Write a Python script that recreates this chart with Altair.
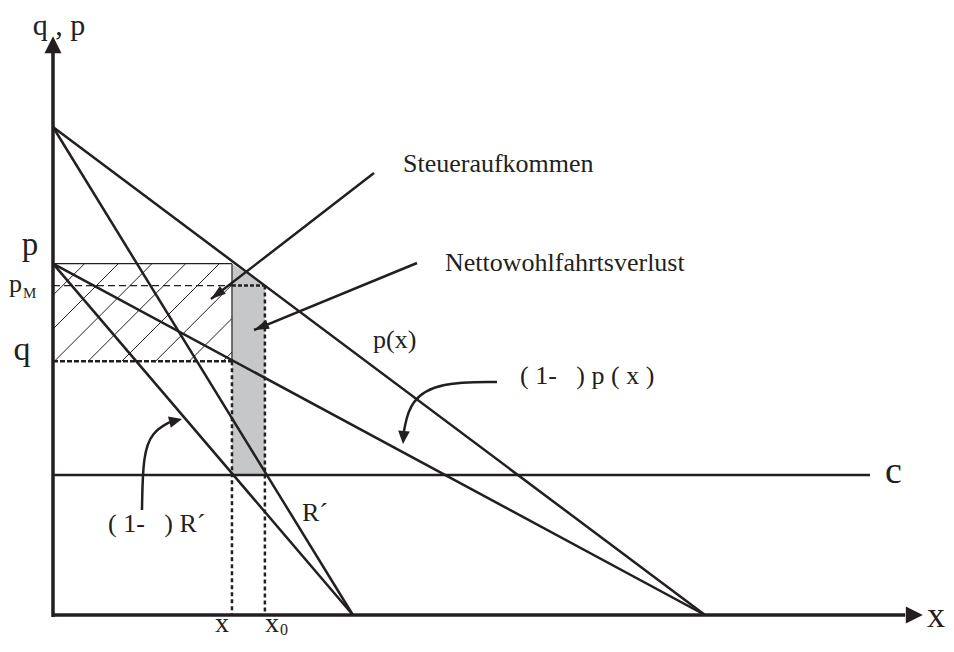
import math
import altair as alt
import pandas as pd

# ---------------- values (diagram units) ----------------
# straight lines: name, start (x, y), end (x, y)
line_names = ["p(x)", "R'", "(1-t)p(x)", "(1-t)R'", "c"]
line_x1 = [0.0, 0.0, 0.0, 0.0, 0.0]
line_y1 = [10.0, 10.0, 7.2, 7.2, 2.87]
line_x2 = [10.0, 4.6, 10.0, 4.6, 12.53]
line_y2 = [0.0, 0.0, 0.0, 0.0, 2.87]

x_m = 2.745      # quantity x
x_0 = 3.25       # quantity x0
p_level = 7.2    # p
pM_level = 6.75  # p_M
q_level = 5.2    # q
c_level = 2.87   # c

# axis extents
y_axis_top = 11.54
y_axis_tip = 11.86
x_axis_end = 13.07
x_axis_tip = 13.34

# straight annotation arrows: from (x, y) to tip (x, y)
arrow_from_x = [4.923, 5.583]
arrow_from_y = [9.057, 7.213]
arrow_tip_x = [2.423, 3.083]
arrow_tip_y = [6.475, 5.840]

# curved annotation arrows (control points) and their tips
curve1_x = [6.810, 5.936, 5.475, 5.383]
curve1_y = [4.775, 4.775, 4.406, 3.770]
curve1_tip = (5.368, 3.504)
curve2_x = [1.365, 1.380, 1.518, 1.794]
curve2_y = [2.152, 3.279, 3.750, 3.955]
curve2_tip = (1.979, 4.016)

NB = "\u00a0"
left_texts = ["p", "M", "Steueraufkommen", "Nettowohlfahrtsverlust", "p(x)",
              "(" + NB + "1-" + NB * 3 + ")" + NB + "p" + NB + "(" + NB + "x" + NB + ")",
              "(" + NB + "1-" + NB * 3 + ")" + NB + "R´", "R´", "x", "0", "x", "c"]
left_tx = [-0.675, -0.46, 5.368, 6.012, 4.908, 7.163, 0.844, 3.819, 3.252, 3.482, 13.405, 12.761]
left_ty = [6.619, 6.496, 9.078, 7.049, 5.471, 4.734, 1.701, 1.926, -0.348, -0.41, -0.246, 2.705]
left_ts = [26, 15, 26, 26, 26, 26, 26, 26, 28, 16, 36, 38]

center_texts = ["q , p", "p", "q", "x"]
center_tx = [0.092, -0.353, -0.475, 2.592]
center_ty = [11.885, 7.377, 5.225, -0.348]
center_ts = [30, 33, 34, 28]

# ---------------- chart geometry ----------------
W, H = 938, 630
umin, umax = -0.690, 13.696
vmin, vmax = -0.471, 12.439
SX = W / (umax - umin)
SY = H / (vmax - vmin)
INK = "#231f20"
FONT = "Liberation Serif"

xs = alt.Scale(domain=[umin, umax], nice=False, zero=False)
ys = alt.Scale(domain=[vmin, vmax], nice=False, zero=False)


def seg_layer(df, width, dash=None, color=INK):
    kw = dict(color=color, strokeWidth=width, strokeCap="butt")
    if dash:
        kw["strokeDash"] = dash
    return alt.Chart(df).mark_rule(**kw).encode(
        x=alt.X("x:Q", scale=xs, axis=None),
        y=alt.Y("y:Q", scale=ys, axis=None),
        x2="x2:Q", y2="y2:Q")


def angle(fx, fy, tx, ty):
    dx = (tx - fx) * SX
    dy = -(ty - fy) * SY
    return math.degrees(math.atan2(dx, -dy)) % 360


# gray net-welfare-loss area
gray = alt.Chart(pd.DataFrame({"x": [x_m, x_0], "y": [p_level, pM_level],
                               "y2": [c_level, c_level]})).mark_area(
    color="#c6c7c9", opacity=1).encode(
    x=alt.X("x:Q", scale=xs, axis=None), y=alt.Y("y:Q", scale=ys, axis=None), y2="y2:Q")

# hatch lines at 45 degrees (screen) inside [0, x_m] x [q, p]
k = SX / SY
spacing = 33.7 / SX
hatch = []
ub = -66.0 / SX
while ub < x_m:
    u1 = max(ub, 0.0)
    v1 = q_level + (u1 - ub) * k
    u2 = ub + (p_level - q_level) / k
    v2 = p_level
    if u2 > x_m:
        u2 = x_m
        v2 = q_level + (x_m - ub) * k
    if v1 < p_level and u1 < x_m:
        hatch.append({"x": u1, "y": v1, "x2": u2, "y2": v2})
    ub += spacing
hatch_df = pd.DataFrame(hatch)

thin_df = pd.DataFrame({"x": [0.0, x_m], "y": [p_level, q_level],
                        "x2": [x_m, x_m], "y2": [p_level, p_level]})

pm_thin = pd.DataFrame({"x": [0.0], "y": [pM_level], "x2": [x_m], "y2": [pM_level]})
pm_thick = pd.DataFrame({"x": [x_m], "y": [pM_level], "x2": [x_0], "y2": [pM_level]})
q_dash = pd.DataFrame({"x": [0.0], "y": [q_level], "x2": [x_m], "y2": [q_level]})
vert_dash = pd.DataFrame({"x": [x_m, x_0], "y": [q_level, pM_level],
                          "x2": [x_m, x_0], "y2": [0.0, 0.0]})

lines_df = pd.DataFrame({"x": line_x1, "y": line_y1, "x2": line_x2, "y2": line_y2})
axes_df = pd.DataFrame({"x": [0.0, 0.0], "y": [-0.04, 0.0],
                        "x2": [0.0, x_axis_end], "y2": [y_axis_top, 0.0]})
arrows_df = pd.DataFrame({"x": arrow_from_x, "y": arrow_from_y,
                          "x2": arrow_tip_x, "y2": arrow_tip_y})

# arrowheads
axis_heads = pd.DataFrame({"x": [0.0, x_axis_tip], "y": [y_axis_tip, 0.0],
                           "ang": [0.0, 90.0]})
ann_heads = pd.DataFrame({
    "x": arrow_tip_x, "y": arrow_tip_y,
    "ang": [angle(arrow_from_x[i], arrow_from_y[i], arrow_tip_x[i], arrow_tip_y[i])
            for i in range(2)]})
curve_heads = pd.DataFrame({
    "x": [curve1_tip[0], curve2_tip[0]], "y": [curve1_tip[1], curve2_tip[1]],
    "ang": [angle(curve1_x[-1], curve1_y[-1], *curve1_tip),
            angle(curve2_x[-1], curve2_y[-1], *curve2_tip)]})


def head_layer(df, shape, size):
    return alt.Chart(df).mark_point(shape=shape, filled=True, fill=INK, opacity=1,
                                    strokeWidth=0, size=size).encode(
        x=alt.X("x:Q", scale=xs, axis=None), y=alt.Y("y:Q", scale=ys, axis=None),
        angle=alt.Angle("ang:Q", scale=None))


curves_df = pd.DataFrame({
    "x": curve1_x + curve2_x, "y": curve1_y + curve2_y,
    "g": ["a"] * 4 + ["b"] * 4, "i": list(range(4)) * 2})
curves = alt.Chart(curves_df).mark_line(interpolate="basis", color=INK,
                                         strokeWidth=2.5).encode(
    x=alt.X("x:Q", scale=xs, axis=None), y=alt.Y("y:Q", scale=ys, axis=None),
    detail="g:N", order="i:Q")


def text_layer(texts, tx, ty, ts, align):
    df = pd.DataFrame({"t": texts, "x": tx, "y": ty, "s": ts})
    return alt.Chart(df).mark_text(align=align, baseline="alphabetic", font=FONT,
                                   color=INK).encode(
        x=alt.X("x:Q", scale=xs, axis=None), y=alt.Y("y:Q", scale=ys, axis=None),
        text="t:N", size=alt.Size("s:Q", scale=None))


chart = alt.layer(
    gray,
    seg_layer(hatch_df, 1.0),
    seg_layer(thin_df, 1.2),
    seg_layer(pm_thin, 1.2, [7, 4]),
    seg_layer(pm_thick, 2.5, [4, 2]),
    seg_layer(q_dash, 2.5, [5, 2]),
    seg_layer(vert_dash, 2.5, [4, 3]),
    seg_layer(lines_df, 2.5),
    seg_layer(axes_df, 3.5),
    seg_layer(arrows_df, 2.5),
    curves,
    head_layer(axis_heads, "M0,0L1,2L-1,2Z", 289),
    head_layer(ann_heads, "M0,0L0.65,2L-0.65,2Z", 225),
    head_layer(curve_heads, "M0,0L0.9,2L-0.9,2Z", 169),
    text_layer(left_texts, left_tx, left_ty, left_ts, "left"),
    text_layer(center_texts, center_tx, center_ty, center_ts, "center"),
).properties(width=W, height=H, padding=0,
             autosize=alt.AutoSizeParams(type="none")).configure_view(stroke=None)

chart.save("out.html", embed_options={"renderer": "svg", "actions": False})
